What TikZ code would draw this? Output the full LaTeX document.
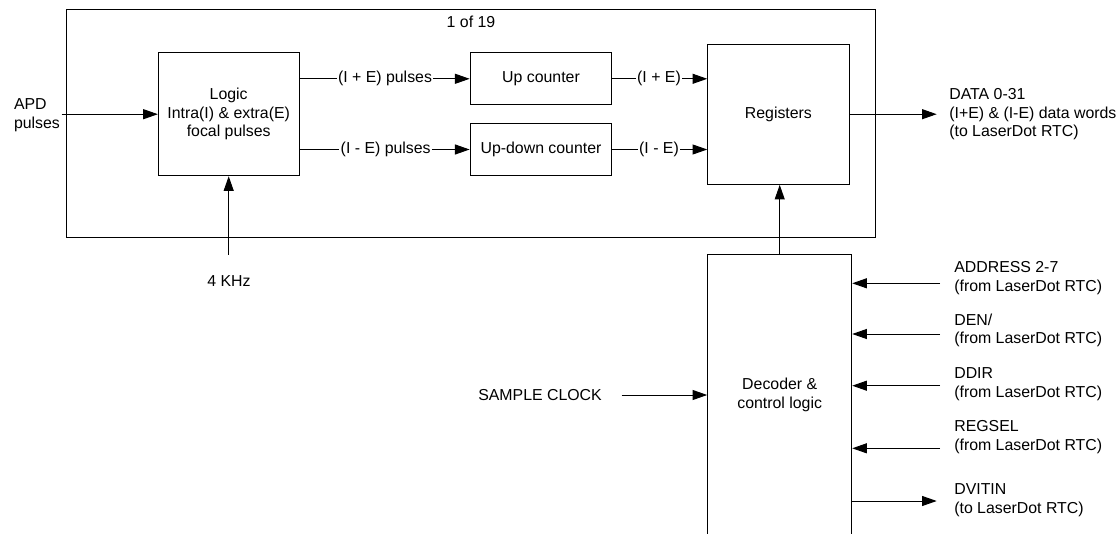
\documentclass[tikz,border=0pt]{standalone}
\usepackage{fontspec}
\setmainfont{Liberation Sans}
\usetikzlibrary{arrows.meta}
\usetikzlibrary{positioning}

\tikzset{
  blk/.style={draw, rectangle, inner sep=0pt, align=center},
  sig/.style={-{Triangle[length=11pt,width=7.5pt]}},
  lbl/.style={inner sep=0.6pt, align=left},
}

\begin{document}
\begin{tikzpicture}[x=0.75pt, y=-0.75pt, line width=0.75pt, font=\fontsize{11.9}{14}\selectfont]
        \clip (0,0) rectangle (1119,534);
        % one channel card
        \node[blk, minimum width=606.5pt, minimum height=171pt] (card) at (471,123.3) {};
        \node (nch) at (471,22) {1 of 19};
        \node[blk, minimum width=105.5pt, minimum height=92.3pt] (logic) at (228.7,114.2) {Logic\\Intra(I) \& extra(E)\\focal pulses};
        \node[blk, minimum width=106.3pt, minimum height=39.2pt] (upc) at (541,78.8) {Up counter};
        \node[blk, minimum width=106.3pt, minimum height=39.2pt] (udc) at (541,149.5) {Up-down counter};
        \node[blk, minimum width=106pt, minimum height=105.2pt] (regs) at (778.4,114.2) {Registers};
        \node[blk, minimum width=108pt, minimum height=210pt] (dec) at (779.7,395) {Decoder \&\\control logic};
        % pulse paths
        \node[lbl] (ppls) at (385,78.8) {(I + E) pulses};
        \draw (logic.east |- ppls) -- (ppls.west);
        \draw[sig] (ppls.east) -- (upc.west);
        \node[lbl] (mpls) at (385.7,149.5) {(I - E) pulses};
        \draw (logic.east |- mpls) -- (mpls.west);
        \draw[sig] (mpls.east) -- (udc.west);
        \node[lbl] (psum) at (659,78.8) {(I + E)};
        \draw (upc.east) -- (psum.west);
        \draw[sig] (psum.east) -- (regs.west |- psum);
        \node[lbl] (pdif) at (659,149.5) {(I - E)};
        \draw (udc.east) -- (pdif.west);
        \draw[sig] (pdif.east) -- (regs.west |- pdif);
        % inputs on the left
        \node[lbl, anchor=west] (apd) at (12.7,115.4) {APD\\pulses};
        \coordinate (apdin) at (61.7,114.2);
        \draw[sig] (apdin) -- (logic.west);
        \node[anchor=north] (clk) at (229,271) {4 KHz};
        \coordinate (clkin) at (228.7,255);
        \draw[sig] (clkin) -- (logic.south);
        \node (smp) at (540,395) {SAMPLE CLOCK};
        \coordinate (smpin) at (621.7,395);
        \draw[sig] (smpin) -- (dec.west);
        \draw[sig] (dec.north) -- (dec.north |- regs.south);
        % data out
        \node[lbl, anchor=west] (data) at (948,114.4) {DATA 0-31\\(I+E) \& (I-E) data words\\(to LaserDot RTC)};
        \coordinate (dout) at (936.7,114.2);
        \draw[sig] (regs.east) -- (dout);
        % bus lines from the RTC
        \foreach \signame/\ya/\yt [count=\i] in {ADDRESS 2-7/283.3/278, {DEN/}/334/330.5, DDIR/385.7/384, REGSEL/448.3/437} {
            \coordinate (src\i) at (940,\ya);
            \node[lbl, anchor=west] (rtc\i) at (953,\yt) {\signame\\(from LaserDot RTC)};
            \draw[sig] (src\i) -- (src\i -| dec.east);
        }
        \coordinate (dvo) at (936.7,501);
        \draw[sig] (dvo -| dec.east) -- (dvo);
        \node[lbl, anchor=west] (rtco) at (953,500) {DVITIN\\(to LaserDot RTC)};
    \end{tikzpicture}
\end{document}
